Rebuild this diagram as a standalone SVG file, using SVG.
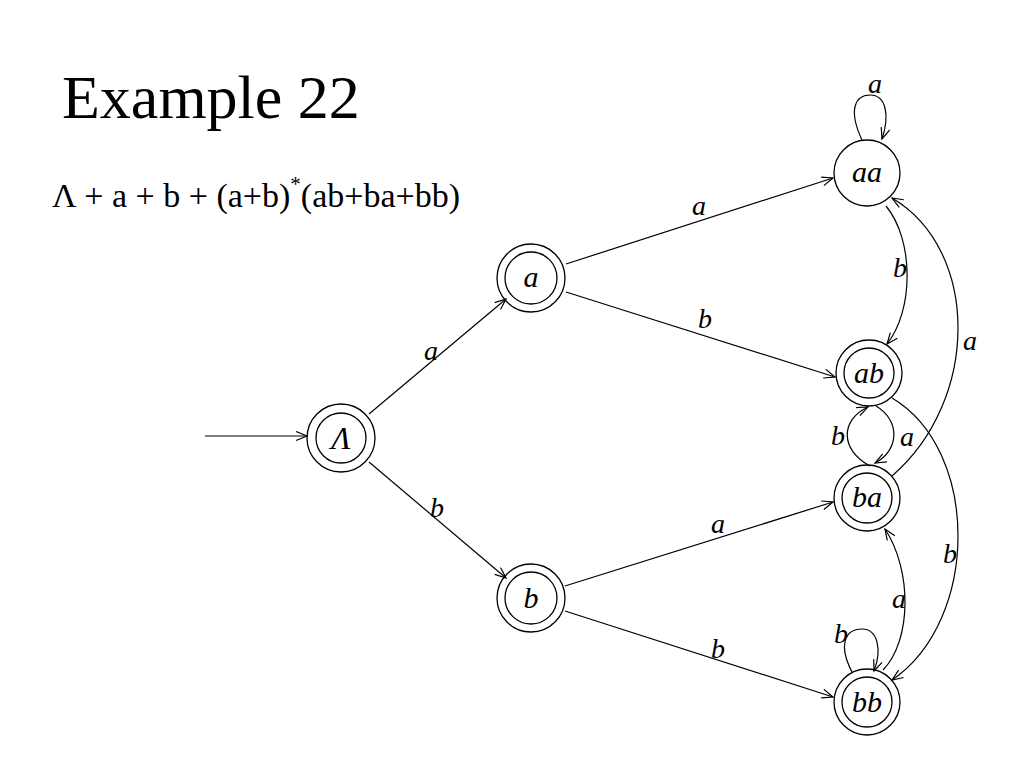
<svg xmlns="http://www.w3.org/2000/svg" width="1024" height="768" viewBox="0 0 1024 768">
<defs>
<marker id="arr" markerUnits="userSpaceOnUse" markerWidth="14" markerHeight="12" refX="12" refY="5" orient="auto">
<path d="M1,0.5 L12,5 L1,9.5" fill="none" stroke="#000" stroke-width="1.2"/>
</marker>
</defs>
<rect width="1024" height="768" fill="#fff"/>
<text x="62" y="118" font-family="Liberation Serif" font-size="62">Example 22</text>
<text x="52" y="207" font-family="Liberation Serif" font-size="34">Λ + a + b + (a+b)<tspan font-size="21" dy="-16">*</tspan><tspan dy="16">(ab+ba+bb)</tspan></text>

<g id="connectors" fill="none" stroke="#000" stroke-width="1.2" marker-end="url(#arr)">
<line x1="205" y1="436" x2="307" y2="436"/>
<line x1="369" y1="414" x2="506" y2="299"/>
<line x1="369" y1="462" x2="506" y2="578"/>
<line x1="566" y1="264" x2="833" y2="178"/>
<line x1="566" y1="292" x2="835" y2="377"/>
<line x1="565" y1="586" x2="833" y2="502"/>
<line x1="565" y1="611" x2="833" y2="697"/>
<path d="M862,140 C848,110 855,95 870,95 C886,95 890,115 882,139"/>
<path d="M886,206 C914,240 914,310 887,344"/>
<path d="M892,476 C980,400 980,250 892,198"/>
<path d="M892,398 C980,450 980,620 892,680"/>
<path d="M876,406 C900,420 900,450 875,463"/>
<path d="M870,466 C840,450 840,420 868,407"/>
<path d="M883,670 C912,640 912,570 885,529"/>
<path d="M852,672 C838,645 845,629 862,629 C878,629 882,650 874,671"/>
</g>
<g id="edge-labels" font-family="Liberation Serif" font-style="italic" font-size="28" text-anchor="middle" fill="#000">
<text x="431" y="360">a</text>
<text x="437" y="517">b</text>
<text x="699" y="215">a</text>
<text x="705" y="328">b</text>
<text x="718" y="533">a</text>
<text x="718" y="658">b</text>
<text x="875" y="93">a</text>
<text x="900" y="277">b</text>
<text x="970" y="350">a</text>
<text x="838" y="445">b</text>
<text x="907" y="446">a</text>
<text x="950" y="563">b</text>
<text x="899" y="608">a</text>
<text x="841" y="643">b</text>
</g>

<g id="nodes" fill="none" stroke="#000" stroke-width="1.3">
<g id="node-start">
<circle cx="341" cy="438" r="34"/>
<circle cx="341" cy="438" r="25"/>
</g>
<g id="node-a">
<circle cx="531" cy="278" r="34"/>
<circle cx="531" cy="278" r="26"/>
</g>
<g id="node-b">
<circle cx="531" cy="598" r="34"/>
<circle cx="531" cy="598" r="26"/>
</g>
<g id="node-aa">
<circle cx="867" cy="173" r="33"/>
</g>
<g id="node-ab">
<circle cx="869" cy="373" r="33"/>
<circle cx="869" cy="373" r="25"/>
</g>
<g id="node-ba">
<circle cx="867" cy="498" r="33"/>
<circle cx="867" cy="498" r="25"/>
</g>
<g id="node-bb">
<circle cx="867" cy="702" r="33"/>
<circle cx="867" cy="702" r="25"/>
</g>
</g>
<g id="node-labels" font-family="Liberation Serif" font-style="italic" font-size="30" text-anchor="middle" fill="#000">
<text x="341" y="449" font-size="32">Λ</text>
<text x="531" y="287">a</text>
<text x="531" y="608">b</text>
<text x="867" y="182">aa</text>
<text x="869" y="383">ab</text>
<text x="867" y="507">ba</text>
<text x="867" y="712">bb</text>
</g>
</svg>
